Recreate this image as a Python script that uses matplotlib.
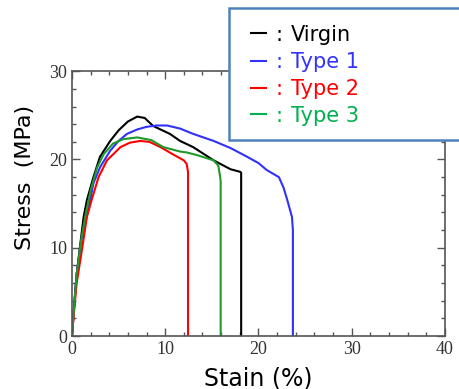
import matplotlib.pyplot as plt
from matplotlib.lines import Line2D
from matplotlib.patches import Rectangle
from matplotlib.ticker import MultipleLocator

# stress-strain curves (strain %, stress MPa)
virgin_x = [0, 0.2, 0.5, 0.9, 1.25, 1.6, 2.3, 3.0, 4.1, 5.0, 6.0, 7.0, 7.8, 8.7, 10.5, 11.6, 13.0, 15.2, 17.0, 18.05, 18.15, 18.15]
virgin_y = [0, 3.0, 7.0, 10.5, 13.5, 15.4, 18.0, 20.3, 22.1, 23.3, 24.3, 24.86, 24.7, 23.8, 22.9, 22.1, 21.4, 19.9, 18.9, 18.6, 18.5, 0]

type1_x = [0, 0.2, 0.5, 1.0, 1.8, 2.3, 3.0, 4.1, 5.0, 5.9, 7.0, 8.0, 9.1, 10.2, 11.6, 13.0, 15.2, 17.0, 18.8, 20.0, 20.9, 22.2, 22.7, 23.1, 23.6, 23.7, 23.7]
type1_y = [0, 3.0, 7.0, 10.8, 14.6, 17.3, 19.1, 21.0, 22.1, 22.9, 23.4, 23.7, 23.85, 23.85, 23.5, 22.9, 22.1, 21.3, 20.3, 19.6, 18.8, 18.0, 16.8, 15.4, 13.5, 12.0, 0]

type2_x = [0, 0.2, 0.5, 1.1, 1.6, 2.1, 2.85, 3.75, 5.2, 6.2, 7.3, 8.3, 9.5, 10.8, 12.0, 12.3, 12.45, 12.45]
type2_y = [0, 2.5, 6.0, 10.0, 13.5, 15.4, 18.0, 19.9, 21.4, 21.9, 22.1, 22.0, 21.4, 20.6, 19.9, 19.5, 18.6, 0]

type3_x = [0, 0.2, 0.5, 1.0, 1.5, 2.0, 2.7, 3.4, 4.4, 5.5, 7.0, 8.5, 9.8, 11.6, 12.3, 13.4, 15.2, 15.7, 15.9, 15.95, 15.95]
type3_y = [0, 3.0, 7.0, 11.0, 14.0, 16.5, 19.1, 20.6, 21.8, 22.3, 22.5, 22.2, 21.4, 20.9, 20.8, 20.5, 19.9, 19.3, 18.0, 17.5, 0]

names = ["Virgin", "Type 1", "Type 2", "Type 3"]
line_colors = ["black", "#3030ff", "#ff0000", "#1e9a2a"]
text_colors = ["black", "#3333ff", "#ff0000", "#00b050"]

fig = plt.figure(figsize=(4.6, 3.89), dpi=100)
ax = fig.add_axes([0.1565, 0.136, 0.8105, 0.681])

curves = [(virgin_x, virgin_y), (type1_x, type1_y), (type2_x, type2_y), (type3_x, type3_y)]
for (xs, ys), c in zip(curves, line_colors):
    ax.plot(xs, ys, color=c, lw=1.5)

ax.set_xlim(0, 40)
ax.set_ylim(0, 30)
ax.xaxis.set_major_locator(MultipleLocator(10))
ax.xaxis.set_minor_locator(MultipleLocator(2))
ax.yaxis.set_major_locator(MultipleLocator(10))
ax.yaxis.set_minor_locator(MultipleLocator(2))
ax.tick_params(which="both", direction="in", top=True, right=True, colors="#555555",
               labelcolor="#333333")
ax.tick_params(which="major", length=6, width=1)
ax.tick_params(which="minor", length=3, width=1)
for lab in ax.get_xticklabels() + ax.get_yticklabels():
    lab.set_family("Liberation Serif")
    lab.set_fontsize(13)
for s in ax.spines.values():
    s.set_color("#555555")
    s.set_linewidth(1.2)

ax.set_xlabel("Stain (%)", fontsize=17, labelpad=6)
ax.set_ylabel("Stress  (MPa)", fontsize=16)
ax.yaxis.set_label_coords(-0.098, 0.6)

# legend box, runs off the right edge
box = Rectangle((0.498, 0.64), 0.6, 0.339, transform=fig.transFigure, fill=True,
                facecolor="white", edgecolor="#4f81bd", lw=1.8, clip_on=False, zorder=5)
fig.add_artist(box)
ys_txt = [0.91, 0.84, 0.771, 0.702]
for n, c, yy in zip(names, text_colors, ys_txt):
    fig.add_artist(Line2D([0.5457, 0.578], [yy + 0.004, yy + 0.004], transform=fig.transFigure,
                          color=c, lw=1.5, zorder=6))
    fig.text(0.598, yy, ":", color=c, fontsize=15, va="center", zorder=6)
    fig.text(0.633, yy, n, color=c, fontsize=15, va="center", zorder=6)

fig.savefig("out.png", dpi=100)
